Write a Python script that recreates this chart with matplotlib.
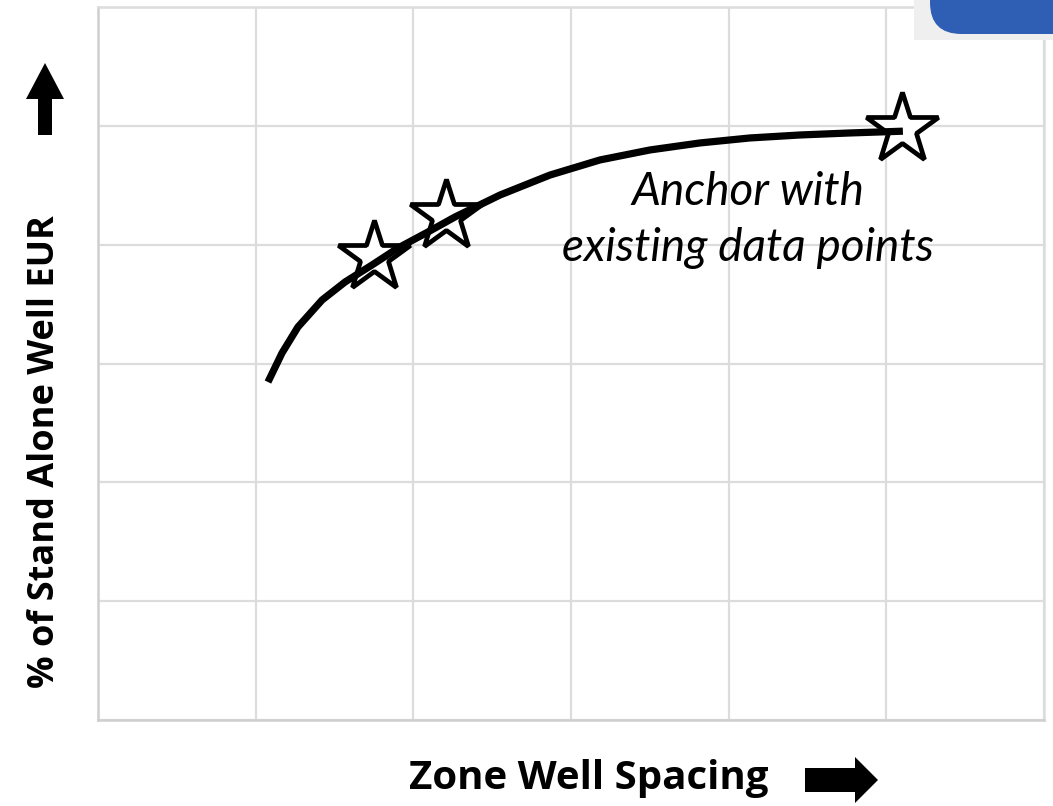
import matplotlib
matplotlib.use("Agg")
import matplotlib.pyplot as plt
from matplotlib.patches import Polygon, FancyBboxPatch, Rectangle

# Response curve: share of stand-alone EUR vs zone well spacing (grid units)
curve_x = [1.078, 1.167, 1.268, 1.421, 1.567, 1.738, 1.903, 2.093, 2.264,
           2.550, 2.867, 3.184, 3.501, 3.818, 4.135, 4.452, 4.769, 5.105]
curve_y = [2.844, 3.088, 3.307, 3.534, 3.686, 3.829, 3.972, 4.107, 4.233,
           4.418, 4.586, 4.713, 4.797, 4.856, 4.898, 4.923, 4.940, 4.955]

# Existing data points used as anchors
anchor_x = [1.75, 2.21, 5.10]
anchor_y = [3.90, 4.24, 4.97]

x_label = "Zone Well Spacing"
y_label = "% of Stand Alone Well EUR"
note = "Anchor with\nexisting data points"

W, H = 1053, 806
fig = plt.figure(figsize=(W / 100, H / 100), dpi=100)
fig.patch.set_facecolor("white")

def fx(px):
    return px / W

def fy(py):
    return 1 - py / H

ax = fig.add_axes([fx(98), fy(720), fx(1044) - fx(98), fy(7) - fy(720)])
ax.set_xlim(0, 6)
ax.set_ylim(0, 6)
ax.set_xticks(range(7))
ax.set_yticks(range(7))
ax.tick_params(length=0, labelbottom=False, labelleft=False)
ax.grid(True, color="#dcdcdc", linewidth=1.6)
ax.set_axisbelow(True)
for side, sp in ax.spines.items():
    sp.set_color("#cfcfcf" if side in ("left", "bottom") else "#dcdcdc")
    sp.set_linewidth(1.8)

ax.plot(anchor_x, anchor_y, linestyle="none", marker="*", markersize=54,
        markerfacecolor="white", markeredgecolor="black", markeredgewidth=3.4,
        zorder=3)
ax.plot(curve_x, curve_y, color="black", linewidth=5.2,
        solid_capstyle="butt", solid_joinstyle="round", zorder=4)

ax.text(4.12, 4.21, note, ha="center", va="center", fontsize=33,
        style="italic", family="Lato", linespacing=1.4, zorder=5)

# Axis titles with direction arrows
fig.text(fx(589), fy(778), x_label, ha="center", va="center", fontsize=29,
         fontweight="bold", family="Open Sans")
fig.text(fx(45), fy(452), y_label, ha="center", va="center", fontsize=26,
         fontweight="bold", family="Open Sans", rotation=90)

def px_poly(pts):
    return Polygon([(fx(x), fy(y)) for x, y in pts], closed=True,
                   transform=fig.transFigure, facecolor="black",
                   edgecolor="none")

fig.patches.append(px_poly([(805, 768), (855, 768), (855, 757), (878, 780),
                            (855, 803), (855, 792), (805, 792)]))
fig.patches.append(px_poly([(38, 135), (38, 99), (26, 99), (45, 63),
                            (64, 99), (52, 99), (52, 135)]))

# Toolbar button in the corner
fig.patches.append(Rectangle((fx(914), fy(40)), fx(W) - fx(914), fy(0) - fy(40),
                             transform=fig.transFigure, facecolor="#efefef",
                             edgecolor="none"))
fig.patches.append(FancyBboxPatch((fx(930), fy(34)), fx(1120) - fx(930),
                                  fy(-30) - fy(34),
                                  boxstyle="round,pad=0,rounding_size=0.03",
                                  transform=fig.transFigure,
                                  facecolor="#2f5fb4", edgecolor="none",
                                  mutation_aspect=W / H))

fig.savefig("out.png", dpi=100, facecolor="white")
